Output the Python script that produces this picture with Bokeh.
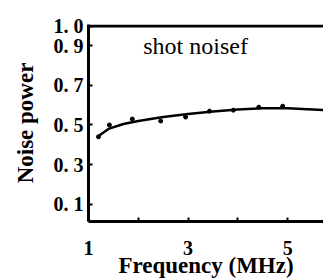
from bokeh.plotting import figure
from bokeh.models import Range1d, FixedTicker, Label, Span
from bokeh.embed import file_html
from bokeh.resources import INLINE

# measured points
freq = [1.2, 1.42, 1.88, 2.45, 2.95, 3.43, 3.91, 4.42, 4.9]
noise = [0.44, 0.50, 0.53, 0.52, 0.54, 0.57, 0.575, 0.59, 0.595]
# fitted curve
fit_freq = [1.18, 1.4, 1.7, 2.0, 2.5, 3.0, 3.5, 4.0, 4.5, 5.0, 5.4, 5.72]
fit_noise = [0.44, 0.48, 0.505, 0.52, 0.54, 0.555, 0.568, 0.578, 0.584, 0.585, 0.58, 0.575]

x_ticks = [1, 2, 3, 4, 5]
x_labels = {1: "1", 2: "", 3: "3", 4: "", 5: "5"}
y_ticks = [0.1, 0.3, 0.5, 0.7, 0.9, 1.0]
y_labels = {0.1: "0. 1", 0.3: "0. 3", 0.5: "0. 5", 0.7: "0. 7", 0.9: "0. 9", 1.0: "1. 0"}
y_top = 1.0

SERIF = "Liberation Serif"

p = figure(width=323, height=280, output_backend="svg", toolbar_location=None,
           x_range=Range1d(1.0, 5.72), y_range=Range1d(0.012, 1.008),
           min_border_left=88, min_border_right=0, min_border_top=24, min_border_bottom=52)
p.outline_line_color = None
p.grid.visible = False
p.background_fill_color = "white"

p.add_layout(Span(location=y_top, dimension="width", line_color="black", line_width=3))

p.line(fit_freq, fit_noise, line_color="black", line_width=2.5)
p.scatter(freq, noise, size=4, color="black")

p.add_layout(Label(x=2.1, y=0.9, text="shot noisef", text_font=SERIF, text_font_size="24px",
                   text_baseline="middle", text_color="black"))

for ax in (p.xaxis[0], p.yaxis[0]):
    ax.axis_line_width = 3
    ax.axis_line_color = "black"
    ax.major_tick_in = 4
    ax.major_tick_out = 0
    ax.major_tick_line_width = 2
    ax.minor_tick_line_color = None
    ax.major_label_text_font = SERIF
    ax.major_label_text_font_style = "bold"
    ax.major_label_text_font_size = "20px"
    ax.major_label_text_color = "black"
    ax.axis_label_text_font = SERIF
    ax.axis_label_text_font_style = "bold"
    ax.axis_label_text_color = "black"

p.xaxis[0].ticker = FixedTicker(ticks=x_ticks)
p.xaxis[0].major_label_overrides = x_labels
p.xaxis[0].major_label_standoff = 19
p.xaxis[0].axis_label = "Frequency (MHz)"
p.xaxis[0].axis_label_text_font_size = "23px"
p.xaxis[0].axis_label_standoff = -5

p.yaxis[0].ticker = FixedTicker(ticks=y_ticks)
p.yaxis[0].major_label_overrides = y_labels
p.yaxis[0].major_label_standoff = 5
p.yaxis[0].axis_label = "Noise power"
p.yaxis[0].axis_label_text_font_size = "23px"
p.yaxis[0].axis_label_standoff = 13

open("out.html", "w").write(file_html(p, INLINE))
